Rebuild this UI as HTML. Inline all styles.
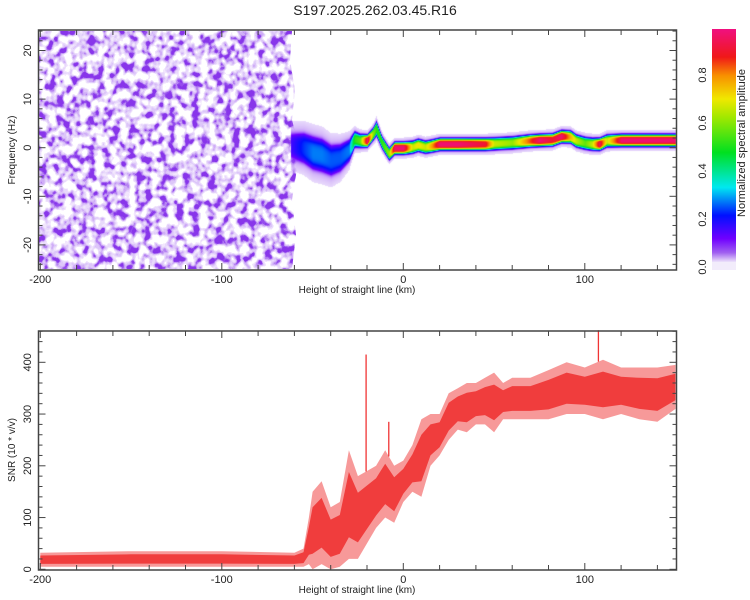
<!DOCTYPE html>
<html><head><meta charset="utf-8">
<style>
body{margin:0;background:#fff;width:750px;height:600px;overflow:hidden;position:relative;font-family:"Liberation Sans",sans-serif;}
#ridge{position:absolute;left:0;top:0;}
svg{position:absolute;left:0;top:0;}
</style></head><body>
<svg id="bg" width="750" height="600">
<defs>
<filter id="noise" x="0" y="0" width="100%" height="100%">
<feTurbulence type="fractalNoise" baseFrequency="0.125 0.11" numOctaves="2" seed="11" result="t"/>
<feColorMatrix in="t" type="matrix" values="0 0 0 0 0  0 0 0 0 0  0 0 0 0 0  2.6 0 0 0 -0.85" result="a"/>
<feComponentTransfer in="a" result="d"><feFuncA type="discrete" tableValues="0 0 0.1 0.18 0.26 0.36 0.55 0.8 0.9"/></feComponentTransfer>
<feFlood flood-color="#7a1ee8" result="c"/>
<feComposite in="c" in2="d" operator="in"/>
</filter>
<clipPath id="noiseClip"><path d="M39,31 L292,31 L290,60 L295,90 L292,120 L300,150 L292,200 L296,235 L292,269 L39,269 Z"/></clipPath>
<linearGradient id="cbar" x1="0" y1="1" x2="0" y2="0">
<stop offset="0" stop-color="#ece2fa"/><stop offset="0.04" stop-color="#a060f0"/>
<stop offset="0.1" stop-color="#7000ff"/><stop offset="0.2" stop-color="#0010ff"/>
<stop offset="0.32" stop-color="#00e8f0"/><stop offset="0.47" stop-color="#00e020"/>
<stop offset="0.62" stop-color="#a0e800"/><stop offset="0.7" stop-color="#f0e800"/>
<stop offset="0.8" stop-color="#f89000"/><stop offset="0.88" stop-color="#f01818"/>
<stop offset="1" stop-color="#f01080"/>
</linearGradient>
</defs>
<rect x="39" y="31" width="262" height="238" fill="#fff" filter="url(#noise)" clip-path="url(#noiseClip)"/>
</svg>
<canvas id="ridge" width="750" height="600"></canvas>
<svg id="fg" width="750" height="600">
<text x="375" y="15" text-anchor="middle" font-size="14" fill="#222">S197.2025.262.03.45.R16</text>
<g id="axes"></g>
<rect x="712" y="29" width="24" height="233" fill="url(#cbar)"/>
<rect x="712" y="262" width="24" height="8" fill="#f2ecfb"/>
<text transform="translate(745,143) rotate(-90)" text-anchor="middle" font-size="11" fill="#222">Normalized spectral amplitude</text>
</svg>
<script>
// ---- data ----
const ridgeKm   = [-62,-55,-50,-45,-40,-35,-30,-27,-24,-20,-17,-15,-12,-8,-5,0,5,8,12,15,20,30,45,50,60,70,75,82,87,92,95,100,104,108,112,120,135,150];
const ridgeFreq = [0.5,0,-1,-1.5,-2.5,-2,-0.5,1.8,1.5,1.5,2.8,4,1.2,-1.2,0,0,0.2,0.6,0.2,0.4,0.8,0.8,0.8,0.9,1.1,1.5,1.6,1.7,2.4,2.3,1.5,1.0,0.8,0.8,1.5,1.6,1.6,1.6];
const ridgeAmp  = [0.08,0.16,0.2,0.2,0.18,0.18,0.2,0.45,0.5,0.92,0.55,0.45,0.45,0.55,0.92,0.92,0.6,0.65,0.6,0.7,0.92,0.92,0.85,0.6,0.55,0.8,0.92,0.85,0.92,0.7,0.6,0.5,0.6,0.9,0.6,0.92,0.92,0.92];
const ridgeWidth= [2.5,2.8,3,3,2.8,2.5,2,1.4,1.2,1.1,1.1,1.3,1.1,1.1,1.1,1.1,1.1,1.1,1.1,1.1,1.1,1.1,1.1,1.1,1.1,1.1,1.1,1.1,1.1,1.1,1.1,1.1,1.1,1.1,1.1,1.1,1.1,1.1];
const snrKm  = [-200,-150,-100,-60,-55,-52,-50,-45,-40,-35,-30,-25,-20,-15,-10,-5,0,5,10,15,20,25,30,35,40,45,50,55,60,70,80,90,100,110,120,130,140,150];
const snrLow = [5,5,5,5,5,10,0,10,0,5,20,20,50,80,100,90,130,150,140,200,220,250,270,265,280,280,265,290,290,290,290,300,300,290,300,290,285,310];
const snrHigh= [32,35,35,32,40,100,150,170,120,130,230,180,190,200,230,200,210,240,290,300,300,340,350,360,360,370,380,360,370,370,385,400,390,405,390,390,390,395];
const spikeKm = [-20.5,-8,107.5];
const spikeVal= [415,285,462];
const xTicks = [-200,-100,0,100];
const fTicks = [-20,-10,0,10,20];
const sTicks = [0,100,200,300,400];
const cTicks = [0,0.2,0.4,0.6,0.8];

// ---- scales ----
const X = km => 403.3 + 1.815*km;
const Yf = f => 147.7 - 4.86*f;
const Ys = s => 569.3 - 0.5175*s;
const Yc = v => 267 - 240*v;
const ns='http://www.w3.org/2000/svg';
const axes=document.getElementById('axes');
function mk(tag,attrs,parent){const e=document.createElementNS(ns,tag);for(const k in attrs)e.setAttribute(k,attrs[k]);(parent||axes).appendChild(e);return e;}
function interp(xs,ys,x){if(x<=xs[0])return ys[0];for(let i=1;i<xs.length;i++){if(x<=xs[i]){const t=(x-xs[i-1])/(xs[i]-xs[i-1]);return ys[i-1]+t*(ys[i]-ys[i-1]);}}return ys[ys.length-1];}

// ---- colormap & ridge ----
const cstops=[[0,[236,226,250]],[0.04,[160,96,240]],[0.1,[112,0,255]],[0.2,[0,16,255]],[0.32,[0,232,240]],[0.47,[0,224,32]],[0.62,[160,232,0]],[0.7,[240,232,0]],[0.8,[248,144,0]],[0.88,[240,24,24]],[1,[240,16,128]]];
function cmap(v){for(let i=1;i<cstops.length;i++){if(v<=cstops[i][0]){const a=cstops[i-1],b=cstops[i];const t=(v-a[0])/(b[0]-a[0]);return a[1].map((c,j)=>Math.round(c+t*(b[1][j]-c)));}}return cstops[cstops.length-1][1];}
const cv=document.getElementById('ridge');const ctx=cv.getContext('2d');
const img=ctx.createImageData(750,600);
for(let px=Math.round(X(ridgeKm[0]));px<=676;px++){
  const km=(px-403.3)/1.815;
  if(km>150)break;
  const fc=interp(ridgeKm,ridgeFreq,km),amp=interp(ridgeKm,ridgeAmp,km),w=interp(ridgeKm,ridgeWidth,km);
  for(let py=31;py<269;py++){
    const f=(147.7-py)/4.86;const d=Math.abs(f-fc);
    let v=amp*Math.exp(-Math.pow(d/w,4))+0.06*Math.exp(-Math.pow(d/(w*2.4),2));
    if(v<0.03)continue;
    v=Math.min(v,0.98);
    const c=cmap(v);const i=(py*750+px)*4;
    img.data[i]=c[0];img.data[i+1]=c[1];img.data[i+2]=c[2];img.data[i+3]=Math.min(255,Math.round(255*v/0.1));
  }
}
ctx.putImageData(img,0,0);

// ---- SNR band ----
let pts=[],core=[];
snrKm.forEach((k,i)=>pts.push(X(k).toFixed(1)+','+Ys(snrHigh[i]).toFixed(1)));
for(let i=snrKm.length-1;i>=0;i--)pts.push(X(snrKm[i]).toFixed(1)+','+Ys(snrLow[i]).toFixed(1));
snrKm.forEach((k,i)=>{const m=(snrHigh[i]+snrLow[i])/2,h=(snrHigh[i]-snrLow[i])*0.3;core.push(X(k).toFixed(1)+','+Ys(m+h).toFixed(1));});
for(let i=snrKm.length-1;i>=0;i--){const m=(snrHigh[i]+snrLow[i])/2,h=(snrHigh[i]-snrLow[i])*0.3;core.push(X(snrKm[i]).toFixed(1)+','+Ys(m-h).toFixed(1));}
const band=mk('polygon',{points:pts.join(' '),fill:'#f03434','fill-opacity':'0.5'});


const coreP=mk('polygon',{points:core.join(' '),fill:'#f03434','fill-opacity':'0.9'});


spikeKm.forEach((k,i)=>{
  const base=interp(snrKm,snrHigh,k);
  const l=mk('line',{x1:X(k),x2:X(k),y1:Ys(base),y2:Ys(spikeVal[i]),stroke:'#f03434','stroke-width':'1.3'});
  
  
});

// ---- axes frames & ticks ----
function panel(top,bot,name){
  const r=mk('rect',{x:38.5,y:top,width:638,height:bot-top,fill:'none',stroke:'#444','stroke-width':'1.5'});
  
  
  for(let k=-200;k<=150;k+=20){const x=X(k);const L=(k%100===0)?7:5;
    mk('line',{x1:x,x2:x,y1:top,y2:top+L,stroke:'#444'});mk('line',{x1:x,x2:x,y1:bot,y2:bot-L,stroke:'#444'});}
  xTicks.forEach(k=>{const t=mk('text',{x:X(k),y:bot+13,'text-anchor':'middle','font-size':'11',fill:'#222'});t.textContent=k;
    });
  const xl=mk('text',{x:357,y:bot+23,'text-anchor':'middle','font-size':'10',fill:'#222'});xl.textContent='Height of straight line (km)';
  
}
panel(30,270,'spectrogram');
panel(331,570,'snr');
for(let f=-24;f<=24;f+=2){const y=Yf(f);const L=(f%10===0)?7:4;mk('line',{x1:38.5,x2:38.5+L,y1:y,y2:y,stroke:'#444'});mk('line',{x1:676.5,x2:676.5-L,y1:y,y2:y,stroke:'#444'});}
fTicks.forEach(f=>{const t=mk('text',{transform:`translate(31,${Yf(f)}) rotate(-90)`,'text-anchor':'middle','font-size':'11',fill:'#222'});t.textContent=f;
  });
for(let s=0;s<=460;s+=20){const y=Ys(s);const L=(s%100===0)?7:4;mk('line',{x1:38.5,x2:38.5+L,y1:y,y2:y,stroke:'#444'});mk('line',{x1:676.5,x2:676.5-L,y1:y,y2:y,stroke:'#444'});}
sTicks.forEach(s=>{const t=mk('text',{transform:`translate(31,${Ys(s)}) rotate(-90)`,'text-anchor':'middle','font-size':'11',fill:'#222'});t.textContent=s;
  });
const fl=mk('text',{transform:'translate(15,150) rotate(-90)','text-anchor':'middle','font-size':'10',fill:'#222'});fl.textContent='Frequency (Hz)';

const sl=mk('text',{transform:'translate(15,450) rotate(-90)','text-anchor':'middle','font-size':'10',fill:'#222'});sl.textContent='SNR (10 * v/v)';

cTicks.forEach(v=>{const t=mk('text',{transform:`translate(706,${Yc(v)}) rotate(-90)`,'text-anchor':'middle','font-size':'11',fill:'#222'});t.textContent=v.toFixed(1);
  });
</script>
</body></html>
